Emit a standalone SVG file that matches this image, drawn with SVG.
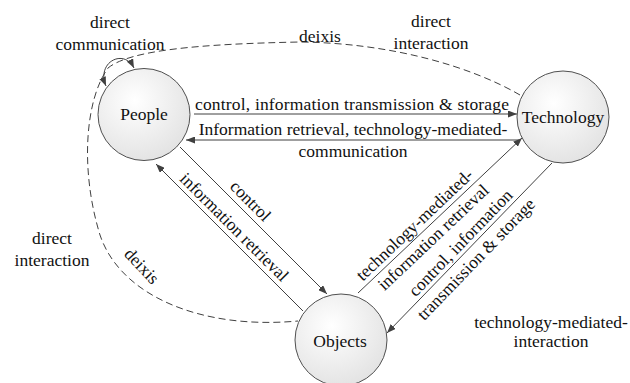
<svg xmlns="http://www.w3.org/2000/svg" width="630" height="383" viewBox="0 0 630 383">
<style>
text{font-size:17.5px;fill:#111;text-anchor:middle}
.node{stroke:#505050;stroke-width:1;fill:url(#g)}
.edge{stroke:#404040;stroke-width:1;fill:none}
.arr{marker-end:url(#ah)}
.dash{stroke-dasharray:7,4}
</style>
<defs>
<radialGradient id="g" cx="40%" cy="35%" r="70%">
<stop offset="0" stop-color="#ffffff"/>
<stop offset="1" stop-color="#e2e2e2"/>
</radialGradient>
<marker id="ah" markerUnits="userSpaceOnUse" markerWidth="9" markerHeight="7" refX="9" refY="3.5" orient="auto-start-reverse">
<path d="M0,0 L9,3.5 L0,7 z" fill="#404040"/>
</marker>
</defs>
<g id="connectors">
<path class="edge dash" d="M520,95 C470,66 390,43 300,42 C200,44 130,50 108,68 C85,100 80,170 100,235 C120,295 200,330 298,321"/>
<path class="edge" d="M106,86 C96,62 124,48 134,68" marker-start="url(#ah)" marker-end="url(#ah)"/>
<path class="edge arr" d="M194,114 L517,114"/>
<path class="edge arr" d="M519,140 L186,140"/>
<path class="edge arr" d="M180,147 L327,294"/>
<path class="edge arr" d="M303,311 L156,164"/>
<path class="edge arr" d="M358,293 L522,138"/>
<path class="edge arr" d="M552,163 L387,333"/>
</g>
<g id="labels">
<text x="110" y="28" font-family="Liberation Serif">direct</text>
<text x="110" y="50" font-family="Liberation Serif">communication</text>
<text x="320" y="42" font-family="Liberation Serif">deixis</text>
<text x="431" y="27" font-family="Liberation Serif">direct</text>
<text x="431" y="48.5" font-family="Liberation Serif">interaction</text>
<text x="352" y="110" textLength="314" font-family="Liberation Serif">control, information transmission &amp; storage</text>
<text x="353" y="135" font-family="Liberation Serif">Information retrieval, technology-mediated-</text>
<text x="353" y="156.5" font-family="Liberation Serif">communication</text>
<text x="52" y="244" font-family="Liberation Serif">direct</text>
<text x="52" y="265.5" font-family="Liberation Serif">interaction</text>
<text transform="translate(137.6,270) rotate(47)" font-family="Liberation Serif">deixis</text>
<g transform="translate(180,147) rotate(45)">
<text x="88" y="-6" font-family="Liberation Serif">control</text>
<text x="95" y="24" font-family="Liberation Serif">information retrieval</text>
</g>
<g transform="translate(358,293) rotate(-43.4)">
<text x="88" y="-5" font-family="Liberation Serif">technology-mediated-</text>
<text x="93" y="17" font-family="Liberation Serif">information retrieval</text>
</g>
<g transform="translate(387,333) rotate(-46)">
<text x="116" y="-4" font-family="Liberation Serif">control, information</text>
<text x="115" y="18.5" font-family="Liberation Serif">transmission &amp; storage</text>
</g>
<text x="551" y="328" font-family="Liberation Serif">technology-mediated-</text>
<text x="551" y="346.5" font-family="Liberation Serif">interaction</text>
</g>
<g id="people">
<circle class="node" cx="144" cy="114.5" r="46"/>
<text x="144" y="120" font-family="Liberation Serif">People</text>
</g>
<g id="technology">
<circle class="node" cx="563" cy="117" r="46"/>
<text x="563" y="123" font-family="Liberation Serif">Technology</text>
</g>
<g id="objects">
<circle class="node" cx="341" cy="340" r="46"/>
<text x="340" y="347" font-family="Liberation Serif">Objects</text>
</g>
</svg>
